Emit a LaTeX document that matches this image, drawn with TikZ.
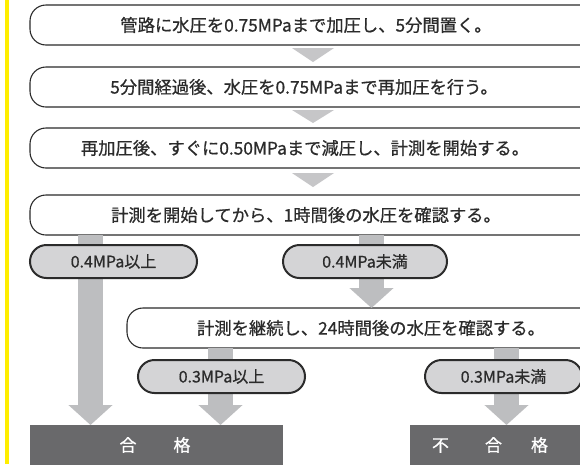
\documentclass[tikz,border=0pt]{standalone}
\usepackage{fontspec}
\setmainfont{Noto Sans CJK JP}[FakeBold=0.7]
\usetikzlibrary{arrows.meta,shapes.misc}
\definecolor{barg}{HTML}{BDBEC0}
\definecolor{trig}{HTML}{C6C6C8}
\definecolor{pillg}{HTML}{D4D4D6}
\definecolor{resg}{HTML}{69696B}
\definecolor{ink}{HTML}{2B2B2B}
\definecolor{markline}{HTML}{FFEE00}
\begin{document}
\begin{tikzpicture}[x=1pt,y=-1pt,
  boxline/.style={draw=ink, line width=1.1pt, rounded corners=16pt},
  boxtext/.style={text=ink, font=\fontsize{17.3}{17}\selectfont, inner sep=0pt},
  pill/.style={rounded rectangle, draw=ink, line width=2pt, fill=pillg, text=ink,
    font=\fontsize{16}{16}\selectfont, minimum height=33pt, inner sep=0pt},
  bar/.style={draw=barg, line width=25pt, -{Triangle[width=43pt,length=20pt]}},
  tri/.style={fill=trig},
  result/.style={fill=resg, inner sep=0pt, anchor=north west, minimum height=45pt},
  restext/.style={text=white, font=\fontsize{17}{17}\selectfont, inner sep=0pt}
]
\useasboundingbox (0,0) rectangle (580,464);
\clip (0,0) rectangle (580,464);
\fill[white] (0,0) rectangle (580,464);
\fill[markline] (5,0) rectangle (8.5,464);

% boxes
\draw[boxline] (660,5) -- (30,5) -- (30,45) -- (660,45);
\draw[boxline] (660,67) -- (30,67) -- (30,107) -- (660,107);
\draw[boxline] (660,128) -- (30,128) -- (30,168) -- (660,168);
\draw[boxline] (660,195) -- (30,195) -- (30,235) -- (660,235);
\draw[boxline] (660,308) -- (127,308) -- (127,348) -- (660,348);

\node[boxtext] (t1) at (306,25) {管路に水圧を0.75MPaまで加圧し、5分間置く。};
\node[boxtext] (t2) at (304,87) {5分間経過後、水圧を0.75MPaまで再加圧を行う。};
\node[boxtext] (t3) at (305,148) {再加圧後、すぐに0.50MPaまで減圧し、計測を開始する。};
\node[boxtext] (t4) at (306,215) {計測を開始してから、1時間後の水圧を確認する。};
\node[boxtext] (t5) at (371,328) {計測を継続し、24時間後の水圧を確認する。};

% triangles
\fill[tri] (292,48) -- (334,48) -- (313,62) -- cycle;
\fill[tri] (292,110) -- (334,110) -- (313,123) -- cycle;
\fill[tri] (292,173) -- (334,173) -- (313,187) -- cycle;

% result boxes
\node[result, minimum width=253pt] (pass) at (30,425) {};
\node[result, minimum width=180pt] (fail) at (410,425) {};
\node[restext] (passt) at (155,445) {合\hspace{37pt}格};
\node[restext] (failt) at (490,445) {不\hspace{36pt}合\hspace{29pt}格};

% connectors
\coordinate (s1) at (90.5,235);
\coordinate (s2) at (371.5,235);
\coordinate (e2) at (371.5,308);
\coordinate (s3) at (220.5,348);
\coordinate (s4) at (506.5,348);
\draw[bar] (s1) -- (s1 |- pass.north);
\draw[bar] (s2) -- (e2);
\draw[bar] (s3) -- (s3 |- pass.north);
\draw[bar] (s4) -- (s4 |- fail.north);

% pills
\node[pill, minimum width=167pt] (p1) at (113.5,261.5) {0.4MPa以上};
\node[pill, minimum width=164pt] (p2) at (365,261.5) {0.4MPa未満};
\node[pill, minimum width=167pt] (p3) at (221.5,376.5) {0.3MPa以上};
\node[pill, minimum width=157pt] (p4) at (503.5,376.5) {0.3MPa未満};
\end{tikzpicture}
\end{document}
